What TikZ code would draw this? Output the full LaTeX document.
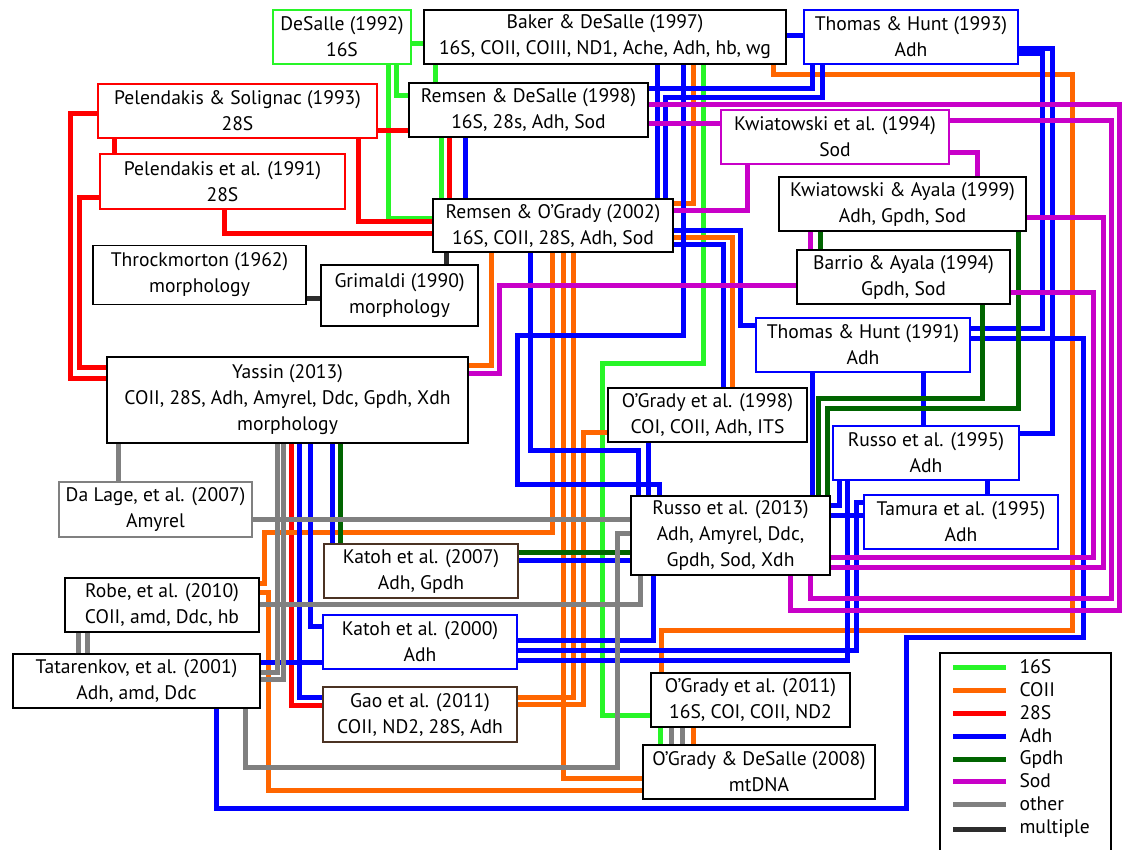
\documentclass[tikz,border=0pt]{standalone}
\usepackage{fontspec}
\setmainfont{PT Sans}
\usetikzlibrary{backgrounds}

\definecolor{c16S}{RGB}{40,245,40}
\definecolor{cCOII}{RGB}{255,102,0}
\definecolor{c28S}{RGB}{255,0,0}
\definecolor{cAdh}{RGB}{0,0,255}
\definecolor{cGpdh}{RGB}{0,100,0}
\definecolor{cSod}{RGB}{200,0,200}
\definecolor{cother}{RGB}{128,128,128}
\definecolor{cmult}{RGB}{45,45,45}
\definecolor{cbrown}{RGB}{75,50,35}

\begin{document}
\begin{tikzpicture}[x=1pt, y=-1pt, font=\fontsize{19.6}{26}\selectfont,
    box/.style={draw, fill=white, line width=1.5pt, align=center, inner sep=1pt},
    wire/.style={line width=5pt},
    l16S/.style={wire, c16S}, lCOII/.style={wire, cCOII},
    l28S/.style={wire, c28S}, lAdh/.style={wire, cAdh},
    lGpdh/.style={wire, cGpdh}, lSod/.style={wire, cSod},
    lother/.style={wire, cother}, lmult/.style={wire, cmult}]
\useasboundingbox (0,0) rectangle (1122,849);

% papers
\node[box, draw=c16S, minimum width=138pt, minimum height=54pt] (ds92) at (342,37)
    {DeSalle (1992)\\16S};
\node[box, minimum width=362pt, minimum height=54pt] (bd97) at (605,37)
    {Baker \& DeSalle (1997)\\16S, COII, COIII, ND1, Ache, Adh, hb, wg};
\node[box, draw=cAdh, minimum width=214pt, minimum height=54pt] (th93) at (911,37)
    {Thomas \& Hunt (1993)\\Adh};
\node[box, draw=c28S, minimum width=279pt, minimum height=54pt] (ps93) at (237.5,111)
    {Pelendakis \& Solignac (1993)\\28S};
\node[box, draw=c28S, minimum width=245pt, minimum height=55pt] (pe91) at (222.5,181.5)
    {Pelendakis et al. (1991)\\28S};
\node[box, minimum width=239pt, minimum height=54pt] (rd98) at (528.5,110)
    {Remsen \& DeSalle (1998)\\16S, 28s, Adh, Sod};
\node[box, draw=cSod, minimum width=228pt, minimum height=54pt] (kw94) at (835,137)
    {Kwiatowski et al. (1994)\\Sod};
\node[box, minimum width=240pt, minimum height=53pt] (ro02) at (553,225.5)
    {Remsen \& O’Grady (2002)\\16S, COII, 28S, Adh, Sod};
\node[box, minimum width=247pt, minimum height=54pt] (ka99) at (902.5,204)
    {Kwiatowski \& Ayala (1999)\\Adh, Gpdh, Sod};
\node[box, minimum width=213pt, minimum height=59pt] (tm62) at (199.5,275)
    {Throckmorton (1962)\\morphology};
\node[box, minimum width=157pt, minimum height=61pt] (gr90) at (399.5,295.5)
    {Grimaldi (1990)\\morphology};
\node[box, minimum width=213pt, minimum height=54pt] (ba94) at (903.5,277)
    {Barrio \& Ayala (1994)\\Gpdh, Sod};
\node[box, draw=cAdh, minimum width=214pt, minimum height=54pt] (th91) at (863,345)
    {Thomas \& Hunt (1991)\\Adh};
\node[box, minimum width=361pt, minimum height=86pt] (ya13) at (287.5,400)
    {Yassin (2013)\\COII, 28S, Adh, Amyrel, Ddc, Gpdh, Xdh\\morphology};
\node[box, minimum width=199pt, minimum height=54pt] (og98) at (707.5,415)
    {O’Grady et al. (1998)\\COI, COII, Adh, ITS};
\node[box, draw=cAdh, minimum width=186pt, minimum height=54pt] (ru95) at (926,453)
    {Russo et al. (1995)\\Adh};
\node[box, draw=cother, minimum width=193pt, minimum height=55pt] (dl07) at (155.5,509.5)
    {Da Lage, et al. (2007)\\Amyrel};
\node[box, minimum width=199pt, minimum height=79pt] (ru13) at (730.5,535.5)
    {Russo et al. (2013)\\Adh, Amyrel, Ddc,\\Gpdh, Sod, Xdh};
\node[box, draw=cAdh, minimum width=194pt, minimum height=54pt] (ta95) at (961,522)
    {Tamura et al. (1995)\\Adh};
\node[box, draw=cbrown, minimum width=194pt, minimum height=54pt] (ka07) at (421,571)
    {Katoh et al. (2007)\\Adh, Gpdh};
\node[box, minimum width=194pt, minimum height=54pt] (rb10) at (162,605)
    {Robe, et al. (2010)\\COII, amd, Ddc, hb};
\node[box, draw=cAdh, minimum width=194pt, minimum height=54pt] (ka00) at (420,642)
    {Katoh et al. (2000)\\Adh};
\node[box, minimum width=247pt, minimum height=54pt] (tt01) at (136.5,681)
    {Tatarenkov, et al. (2001)\\Adh, amd, Ddc};
\node[box, draw=cbrown, minimum width=194pt, minimum height=55pt] (ga11) at (420,714.5)
    {Gao et al. (2011)\\COII, ND2, 28S, Adh};
\node[box, minimum width=199pt, minimum height=54pt] (og11) at (750.5,700)
    {O’Grady et al. (2011)\\16S, COI, COII, ND2};
\node[box, minimum width=232pt, minimum height=54pt] (og08) at (759,772)
    {O’Grady \& DeSalle (2008)\\mtDNA};

% links
\begin{scope}[on background layer]
% 16S
\draw[l16S] (ds92.east |- 0,43) -- (bd97.west |- 0,43);
\draw[l16S] (ds92.south -| 396,0) |- (rd98.west |- 0,95);
\draw[l16S] (ds92.south -| 388,0) |- (ro02.west |- 0,218);
\draw[l16S] (bd97.south -| 435,0) -- (rd98.north -| 435,0);
\draw[l16S] (rd98.south -| 441,0) -- (ro02.north -| 441,0);
\draw[l16S] (bd97.south -| 703,0) |- (602,363) |- (og11.west |- 0,715);
\draw[l16S] (og11.south -| 660,0) -- (og08.north -| 660,0);
% 28S
\draw[l28S] (ps93.east |- 0,130) -- (rd98.west |- 0,130);
\draw[l28S] (ps93.south -| 358,0) |- (ro02.west |- 0,221);
\draw[l28S] (pe91.south -| 224,0) |- (ro02.west |- 0,233);
\draw[l28S] (ps93.west |- 0,113) -| (70,378) -- (ya13.west |- 0,378);
\draw[l28S] (pe91.west |- 0,197) -| (79,367) -- (ya13.west |- 0,367);
\draw[l28S] (ps93.south -| 114,0) -- (pe91.north -| 114,0);
\draw[l28S] (rd98.south -| 449,0) -- (ro02.north -| 449,0);
\draw[l28S] (ya13.south -| 291,0) |- (ga11.west |- 0,705);
% COII
\draw[lCOII] (bd97.south -| 693,0) |- (ro02.east |- 0,203);
\draw[lCOII] (bd97.south -| 773,0) |- (1072,74) |- (661,630) -- (og11.north -| 661,0);
\draw[lCOII] (ro02.east |- 0,237) -| (og98.north -| 732,0);
\draw[lCOII] (ro02.south -| 491,0) |- (ya13.east |- 0,365);
\draw[lCOII] (ro02.south -| 552,0) |- (264,532) |- (rb10.east |- 0,583);
\draw[lCOII] (ro02.south -| 563,0) |- (og08.west |- 0,778);
\draw[lCOII] (ro02.south -| 573,0) |- (ga11.east |- 0,697);
\draw[lCOII] (og98.west |- 0,432) -| (583,704) -- (ga11.east |- 0,704);
\draw[lCOII] (rb10.east |- 0,592) -| (268,790) -- (og08.west |- 0,790);
\draw[lCOII] (og11.south -| 693,0) -- (og08.north -| 693,0);
% Adh
\draw[lAdh] (bd97.east |- 0,35) -- (th93.west |- 0,35);
\draw[lAdh] (rd98.east |- 0,88) -| (th93.south -| 812,0);
\draw[lAdh] (ro02.north -| 665,0) |- (822,97) -- (th93.south -| 822,0);
\draw[lAdh] (bd97.south -| 657,0) -- (ro02.north -| 657,0);
\draw[lAdh] (bd97.south -| 683,0) |- (517,335) |- (659,484) -- (ru13.north -| 659,0);
\draw[lAdh] (rd98.south -| 465,0) -- (ro02.north -| 465,0);
\draw[lAdh] (ro02.east |- 0,230) -| (740,325) -- (th91.west |- 0,325);
\draw[lAdh] (ro02.east |- 0,244) -| (og98.north -| 723,0);
\draw[lAdh] (ro02.south -| 530,0) |- (638,450) -- (ru13.north -| 638,0);
\draw[lAdh] (og98.south -| 648,0) -- (ru13.north -| 648,0);
\draw[lAdh] (th91.south -| 812,0) -- (ru13.north -| 812,0);
\draw[lAdh] (th91.south -| 923,0) -- (ru95.north -| 923,0);
\draw[lAdh] (th93.east |- 0,48) -| (1052,433) -- (ru95.east |- 0,433);
\draw[lAdh] (th93.east |- 0,53) -| (1042,328) -- (th91.east |- 0,328);
\draw[lAdh] (tt01.south -| 216,0) |- (906,808) |- (1083,637) |- (th91.east |- 0,338);
\draw[lAdh] (ya13.south -| 332,0) -- (ka07.north -| 332,0);
\draw[lAdh] (ya13.south -| 310,0) |- (ka00.west |- 0,626);
\draw[lAdh] (ya13.south -| 299,0) |- (ga11.west |- 0,697);
\draw[lAdh] (tt01.east |- 0,662) -- (ka00.west |- 0,662);
\draw[lAdh] (ka07.east |- 0,560) -- (ru13.west |- 0,560);
\draw[lAdh] (ru13.south -| 653,0) |- (ka00.east |- 0,640);
\draw[lAdh] (ka00.east |- 0,650) -| (856,502) -- (ta95.west |- 0,502);
\draw[lAdh] (ka00.east |- 0,660) -| (ru95.south -| 847,0);
\draw[lAdh] (ru13.east |- 0,505) -| (ru95.south -| 839,0);
\draw[lAdh] (ru13.east |- 0,515) -- (ta95.west |- 0,515);
\draw[lAdh] (ru95.south -| 987,0) -- (ta95.north -| 987,0);
% Gpdh
\draw[lGpdh] (ya13.south -| 340,0) -- (ka07.north -| 340,0);
\draw[lGpdh] (ka07.east |- 0,552) -- (ru13.west |- 0,552);
\draw[lGpdh] (ka99.south -| 820,0) -- (ba94.north -| 820,0);
\draw[lGpdh] (ba94.south -| 982,0) |- (818,398) -- (ru13.north -| 818,0);
\draw[lGpdh] (ka99.south -| 1018,0) |- (827,408) -- (ru13.north -| 827,0);
% Sod
\draw[lSod] (rd98.east |- 0,104) -| (1119,610) -| (ru13.south -| 790,0);
\draw[lSod] (rd98.east |- 0,123) -- (kw94.west |- 0,123);
\draw[lSod] (kw94.south -| 747,0) |- (ro02.east |- 0,210);
\draw[lSod] (kw94.east |- 0,120) -| (1111,598) -| (ru13.south -| 810,0);
\draw[lSod] (kw94.east |- 0,152) -| (ka99.north -| 977,0);
\draw[lSod] (ka99.east |- 0,217) -| (1103,567) -- (ru13.east |- 0,567);
\draw[lSod] (ba94.east |- 0,292) -| (1093,557) -- (ru13.east |- 0,557);
\draw[lSod] (ka99.south -| 810,0) -- (ba94.north -| 810,0);
\draw[lSod] (ya13.east |- 0,373) -| (499,285) -- (ba94.west |- 0,285);
% other
\draw[lother] (ya13.south -| 118,0) -- (dl07.north -| 118,0);
\draw[lother] (dl07.east |- 0,519) -- (ru13.west |- 0,519);
\draw[lother] (ya13.south -| 277,0) |- (tt01.east |- 0,672);
\draw[lother] (ya13.south -| 283,0) |- (tt01.east |- 0,679);
\draw[lother] (rb10.south -| 78,0) -- (tt01.north -| 78,0);
\draw[lother] (rb10.south -| 87,0) -- (tt01.north -| 87,0);
\draw[lother] (rb10.east |- 0,604) -| (ru13.south -| 640,0);
\draw[lother] (tt01.south -| 245,0) |- (617,767) |- (ru13.west |- 0,533);
\draw[lother] (og11.south -| 671,0) -- (og08.north -| 671,0);
\draw[lother] (og11.south -| 682,0) -- (og08.north -| 682,0);
% multiple
\draw[lmult] (tm62.east |- 0,298) -- (gr90.west |- 0,298);
\draw[lmult] (ro02.south -| 446,0) -- (gr90.north -| 446,0);
\end{scope}

% key
\node[draw, line width=1.5pt, minimum width=171pt, minimum height=209pt] (key) at (1025.5,757.5) {};
\node[anchor=west] (k16S) at (1016,667) {16S};
\node[anchor=west] (kCOII) at (1016,690) {COII};
\node[anchor=west] (k28S) at (1016,713) {28S};
\node[anchor=west] (kAdh) at (1016,736) {Adh};
\node[anchor=west] (kGpdh) at (1016,759) {Gpdh};
\node[anchor=west] (kSod) at (1016,781) {Sod};
\node[anchor=west] (kother) at (1016,804) {other};
\node[anchor=west] (kmult) at (1016,829) {multiple};
\draw[l16S] ([xshift=-63pt]k16S.west) -- ([xshift=-10pt]k16S.west);
\draw[lCOII] ([xshift=-63pt]kCOII.west) -- ([xshift=-10pt]kCOII.west);
\draw[l28S] ([xshift=-63pt]k28S.west) -- ([xshift=-10pt]k28S.west);
\draw[lAdh] ([xshift=-63pt]kAdh.west) -- ([xshift=-10pt]kAdh.west);
\draw[lGpdh] ([xshift=-63pt]kGpdh.west) -- ([xshift=-10pt]kGpdh.west);
\draw[lSod] ([xshift=-63pt]kSod.west) -- ([xshift=-10pt]kSod.west);
\draw[lother] ([xshift=-63pt]kother.west) -- ([xshift=-10pt]kother.west);
\draw[lmult] ([xshift=-63pt]kmult.west) -- ([xshift=-10pt]kmult.west);
\end{tikzpicture}
\end{document}
